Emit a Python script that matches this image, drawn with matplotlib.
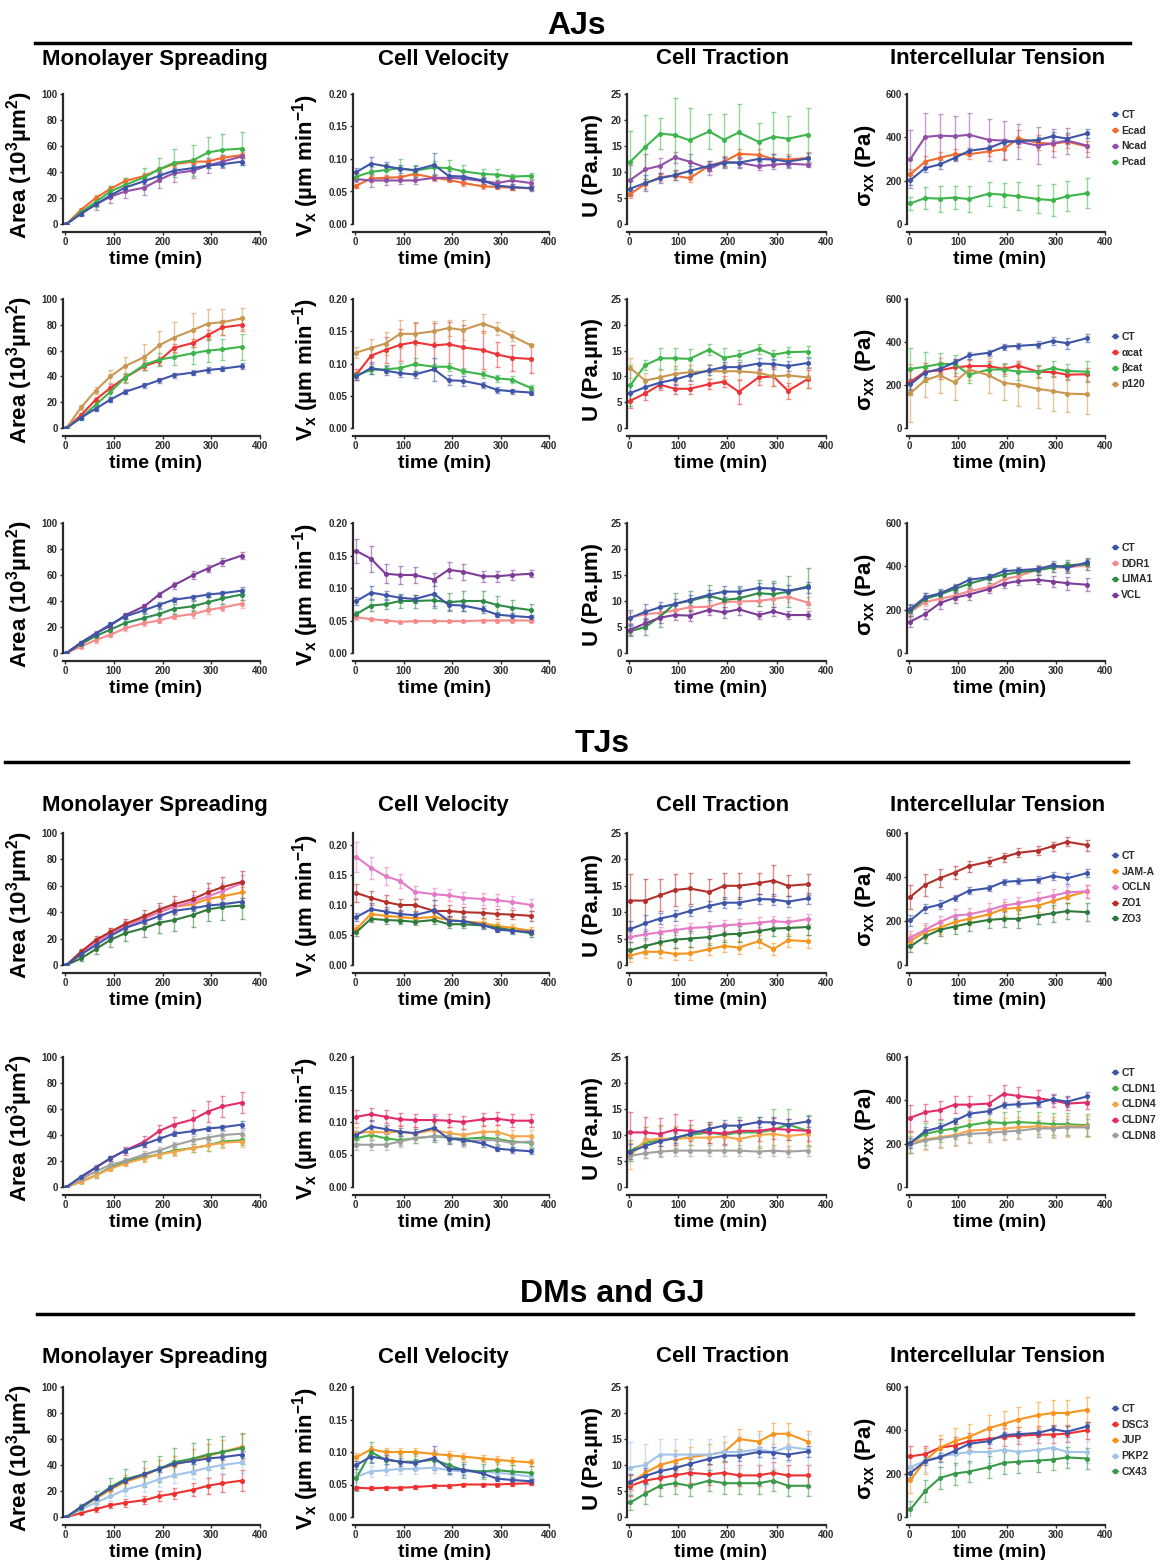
import matplotlib
matplotlib.use('Agg')
import matplotlib.pyplot as plt
from matplotlib.lines import Line2D
from matplotlib.ticker import FormatStrFormatter

plt.rcParams['font.family'] = ['Liberation Sans', 'DejaVu Sans']
plt.rcParams['font.weight'] = 'bold'
plt.rcParams['mathtext.fontset'] = 'custom'
plt.rcParams['mathtext.rm'] = 'Liberation Sans:bold'
plt.rcParams['mathtext.it'] = 'Liberation Sans:bold'
plt.rcParams['mathtext.bf'] = 'Liberation Sans:bold'
plt.rcParams['mathtext.default'] = 'rm'

# time points (min)
time = [3, 33, 63, 93, 123, 163, 193, 223, 263, 293, 323, 363]

# control (CT), shared by every panel
ct_area = [0, 8, 15, 22, 28, 33, 37, 41, 43, 45, 46, 48]
ct_area_err = [0, 1, 1.5, 2, 2, 2, 2, 2, 2, 2, 2, 2.5]
ct_vel = [0.080, 0.093, 0.089, 0.085, 0.083, 0.091, 0.074, 0.073, 0.067, 0.059, 0.057, 0.055]
ct_vel_err = [0.006, 0.010, 0.007, 0.006, 0.006, 0.018, 0.008, 0.008, 0.005, 0.004, 0.004, 0.004]
ct_trac = [6.8, 7.9, 8.8, 9.4, 10.2, 11.2, 11.8, 11.8, 12.5, 12.4, 12.0, 12.6]
ct_trac_err = [1.5, 1.5, 1.0, 1.0, 1.0, 1.0, 1.0, 1.0, 1.0, 1.0, 1.0, 1.0]
ct_ten = [203, 258, 275, 305, 338, 350, 378, 382, 388, 405, 394, 418]
ct_ten_err = [25, 20, 20, 15, 15, 15, 15, 15, 15, 18, 25, 20]

# ---- AJs, row 1
aj1_labels = ['Ecad', 'Ncad', 'Pcad']
aj1_colors = ['#f26a30', '#9350a8', '#3db54a']
aj1_area = [[0, 11, 20, 27, 33, 37, 42, 46, 48, 48, 51, 53],
            [0, 8, 15, 21, 25, 28, 34, 39, 41, 45, 48, 52],
            [0, 9, 17, 25, 30, 36, 42, 47, 49, 55, 57, 58]]
aj1_area_err = [[0, 1, 2, 2, 2, 2, 2, 2, 2, 2, 2, 2],
                [0, 2, 4, 5, 5, 6, 6, 7, 6, 6, 5, 5],
                [0, 2, 4, 4, 5, 7, 9, 11, 12, 12, 12, 13]]
aj1_vel = [[0.059, 0.070, 0.071, 0.072, 0.077, 0.071, 0.068, 0.063, 0.058, 0.057, 0.056, 0.055],
           [0.069, 0.067, 0.067, 0.067, 0.067, 0.071, 0.071, 0.070, 0.066, 0.063, 0.067, 0.063],
           [0.073, 0.080, 0.083, 0.086, 0.082, 0.087, 0.086, 0.081, 0.077, 0.076, 0.073, 0.074]]
aj1_vel_err = [[0.003, 0.005, 0.004, 0.004, 0.004, 0.005, 0.004, 0.004, 0.004, 0.003, 0.003, 0.003],
               [0.005, 0.010, 0.007, 0.006, 0.005, 0.004, 0.005, 0.005, 0.005, 0.005, 0.005, 0.005],
               [0.006, 0.008, 0.010, 0.014, 0.008, 0.010, 0.012, 0.010, 0.007, 0.009, 0.004, 0.005]]
aj1_trac = [[5.8, 7.7, 9.0, 9.3, 8.8, 11.2, 12.0, 13.5, 13.3, 12.5, 12.4, 12.7],
            [8.5, 10.5, 11.2, 12.8, 12.0, 10.6, 11.9, 11.8, 11.1, 11.4, 11.6, 11.4],
            [12.0, 14.8, 17.4, 17.1, 16.1, 17.8, 16.2, 17.6, 15.8, 16.8, 16.4, 17.2]]
aj1_trac_err = [[0.8, 1.0, 0.8, 0.8, 0.8, 1.0, 1.0, 1.0, 1.2, 1.0, 1.0, 1.2],
                [2.8, 3.0, 1.5, 1.0, 1.5, 1.2, 0.8, 0.8, 0.8, 0.8, 0.8, 0.5],
                [5.8, 6.2, 3.0, 7.2, 6.2, 3.3, 5.0, 5.4, 3.7, 4.8, 4.4, 5.2]]
aj1_ten = [[230, 288, 305, 322, 322, 335, 345, 395, 375, 370, 380, 358],
           [300, 402, 408, 405, 412, 388, 385, 380, 362, 372, 385, 362],
           [95, 120, 117, 122, 115, 140, 135, 128, 115, 110, 128, 142]]
aj1_ten_err = [[25, 25, 25, 25, 20, 20, 45, 40, 35, 35, 30, 25],
               [135, 110, 100, 95, 100, 95, 90, 80, 85, 65, 60, 55],
               [30, 50, 60, 55, 60, 55, 55, 65, 65, 75, 70, 70]]

# ---- AJs, row 2
aj2_labels = ['\u03b1cat', '\u03b2cat', 'p120']
aj2_colors = ['#ee3436', '#3db54a', '#c9974f']
aj2_area = [[0, 10, 22, 31, 39, 48, 52, 62, 66, 72, 78, 80],
            [0, 8, 18, 28, 39, 49, 53, 55, 58, 60, 61, 63],
            [0, 16, 29, 40, 48, 55, 64, 70, 76, 81, 82, 85]]
aj2_area_err = [[0, 2, 2, 3, 3, 3, 3, 3, 3, 4, 6, 5],
                [0, 2, 3, 4, 4, 4, 5, 6, 8, 9, 8, 10],
                [0, 2, 3, 5, 7, 10, 11, 12, 13, 11, 10, 8]]
aj2_vel = [[0.083, 0.112, 0.121, 0.129, 0.133, 0.128, 0.130, 0.125, 0.121, 0.114, 0.109, 0.107],
           [0.082, 0.090, 0.091, 0.093, 0.099, 0.095, 0.095, 0.088, 0.083, 0.077, 0.075, 0.062],
           [0.117, 0.124, 0.131, 0.146, 0.146, 0.150, 0.155, 0.152, 0.162, 0.154, 0.143, 0.128]]
aj2_vel_err = [[0.008, 0.012, 0.020, 0.025, 0.030, 0.035, 0.035, 0.035, 0.030, 0.020, 0.020, 0.022],
               [0.005, 0.006, 0.006, 0.008, 0.010, 0.005, 0.006, 0.005, 0.005, 0.005, 0.005, 0.004],
               [0.009, 0.014, 0.018, 0.022, 0.018, 0.016, 0.012, 0.015, 0.014, 0.010, 0.008, 0.003]]
aj2_trac = [[5.3, 6.7, 8.4, 7.6, 7.6, 8.5, 9.0, 7.0, 9.8, 10.0, 7.2, 9.5],
            [8.3, 12.2, 13.5, 13.5, 13.4, 15.2, 13.6, 14.1, 15.3, 14.2, 14.7, 14.8],
            [11.6, 9.2, 9.8, 10.5, 10.8, 11.0, 11.0, 11.0, 10.7, 10.0, 10.2, 9.8]]
aj2_trac_err = [[1.5, 1.3, 1.0, 1.0, 1.0, 1.0, 1.0, 2.3, 1.5, 1.8, 1.5, 1.8],
                [4.0, 1.0, 2.0, 2.0, 2.0, 1.0, 2.0, 1.0, 1.0, 1.0, 1.0, 1.0],
                [2.0, 1.5, 1.5, 1.5, 1.5, 1.5, 1.5, 1.5, 1.5, 1.8, 2.0, 2.0]]
aj2_ten = [[215, 262, 268, 282, 288, 288, 275, 290, 262, 260, 248, 250],
           [275, 285, 298, 298, 248, 272, 272, 262, 262, 278, 265, 262],
           [162, 222, 245, 212, 272, 245, 210, 202, 182, 172, 160, 157]]
aj2_ten_err = [[60, 40, 40, 40, 30, 25, 25, 20, 25, 25, 25, 30],
               [95, 70, 50, 40, 40, 30, 30, 40, 30, 35, 35, 50],
               [135, 80, 80, 80, 50, 80, 80, 100, 90, 95, 85, 90]]

# ---- AJs, row 3
aj3_labels = ['DDR1', 'LIMA1', 'VCL']
aj3_colors = ['#f58b8b', '#2e8b48', '#7d3c98']
aj3_area = [[0, 5, 10, 14, 19, 23, 25, 28, 30, 33, 35, 38],
            [0, 7, 13, 18, 23, 27, 30, 34, 36, 39, 42, 45],
            [0, 8, 15, 21, 29, 36, 45, 52, 60, 65, 70, 75]]
aj3_area_err = [[0, 1, 2, 2, 2, 2, 2, 2, 3, 3, 3, 3],
                [0, 1, 2, 2, 3, 3, 4, 4, 4, 4, 4, 4],
                [0, 1, 2, 2, 2, 2, 2, 3, 3, 3, 3, 3]]
aj3_vel = [[0.055, 0.052, 0.050, 0.048, 0.049, 0.049, 0.049, 0.049, 0.050, 0.050, 0.050, 0.050],
           [0.060, 0.073, 0.075, 0.080, 0.080, 0.081, 0.078, 0.080, 0.080, 0.074, 0.070, 0.066],
           [0.157, 0.145, 0.122, 0.120, 0.120, 0.113, 0.128, 0.125, 0.118, 0.118, 0.120, 0.122]]
aj3_vel_err = [[0.004, 0.002, 0.002, 0.002, 0.002, 0.002, 0.002, 0.002, 0.002, 0.002, 0.002, 0.002],
               [0.005, 0.008, 0.008, 0.010, 0.010, 0.012, 0.014, 0.015, 0.015, 0.013, 0.012, 0.010],
               [0.018, 0.020, 0.015, 0.014, 0.012, 0.010, 0.012, 0.012, 0.008, 0.008, 0.008, 0.005]]
aj3_trac = [[6.8, 7.5, 7.7, 8.2, 8.8, 8.9, 9.8, 9.9, 10.0, 10.4, 10.8, 9.7],
            [4.2, 5.0, 7.0, 9.5, 10.0, 11.0, 10.2, 10.5, 11.5, 11.3, 11.8, 12.8],
            [4.5, 5.7, 6.8, 7.3, 7.2, 8.3, 7.8, 8.4, 7.3, 8.0, 7.3, 7.3]]
aj3_trac_err = [[1.0, 1.0, 1.0, 1.0, 1.0, 1.0, 1.0, 1.0, 1.0, 1.0, 1.0, 1.0],
                [1.0, 1.5, 2.0, 2.0, 2.0, 2.0, 2.0, 2.0, 2.5, 2.5, 3.0, 3.5],
                [1.0, 1.0, 1.0, 1.0, 1.0, 1.0, 1.0, 1.0, 0.8, 0.8, 0.8, 0.8]]
aj3_ten = [[190, 235, 250, 265, 285, 305, 340, 355, 385, 395, 395, 405],
           [195, 250, 270, 295, 320, 345, 362, 372, 382, 395, 405, 410],
           [145, 180, 230, 255, 270, 295, 320, 332, 338, 330, 322, 315]]
aj3_ten_err = [[30, 20, 20, 20, 20, 20, 20, 20, 20, 20, 20, 20],
               [25, 25, 20, 20, 20, 20, 20, 20, 20, 20, 25, 25],
               [25, 25, 25, 25, 25, 20, 20, 20, 20, 25, 30, 30]]

# ---- TJs, row 1
tj1_labels = ['JAM-A', 'OCLN', 'ZO1', 'ZO3']
tj1_colors = ['#f7941d', '#e57ac6', '#b4302a', '#2f7a3a']
tj1_area = [[0, 10, 18, 25, 30, 36, 40, 44, 46, 50, 52, 55],
            [0, 9, 17, 24, 29, 35, 40, 44, 48, 52, 56, 62],
            [0, 10, 19, 25, 31, 37, 42, 46, 50, 55, 59, 63],
            [0, 5, 12, 19, 24, 28, 32, 34, 38, 42, 44, 45]]
tj1_area_err = [[0, 2, 2, 3, 3, 3, 3, 4, 4, 4, 4, 4],
                [0, 2, 3, 3, 4, 4, 5, 5, 5, 6, 6, 6],
                [0, 2, 3, 3, 4, 5, 5, 6, 6, 7, 8, 8],
                [0, 2, 4, 5, 6, 7, 8, 8, 9, 9, 10, 10]]
tj1_vel = [[0.060, 0.085, 0.082, 0.080, 0.078, 0.080, 0.075, 0.073, 0.070, 0.065, 0.062, 0.057],
           [0.180, 0.162, 0.148, 0.140, 0.122, 0.118, 0.116, 0.112, 0.110, 0.108, 0.105, 0.100],
           [0.120, 0.112, 0.105, 0.100, 0.100, 0.090, 0.090, 0.088, 0.087, 0.085, 0.084, 0.082],
           [0.055, 0.077, 0.075, 0.074, 0.072, 0.075, 0.068, 0.068, 0.066, 0.062, 0.058, 0.053]]
tj1_vel_err = [[0.006, 0.006, 0.006, 0.006, 0.006, 0.006, 0.006, 0.006, 0.006, 0.006, 0.006, 0.006],
               [0.025, 0.018, 0.015, 0.012, 0.010, 0.010, 0.010, 0.010, 0.010, 0.010, 0.010, 0.010],
               [0.015, 0.012, 0.012, 0.010, 0.010, 0.010, 0.010, 0.008, 0.008, 0.008, 0.008, 0.008],
               [0.006, 0.006, 0.006, 0.006, 0.006, 0.006, 0.006, 0.006, 0.006, 0.006, 0.006, 0.006]]
tj1_trac = [[1.8, 2.5, 2.5, 2.1, 2.2, 3.0, 3.6, 3.3, 4.5, 3.0, 4.7, 4.5],
            [5.3, 5.8, 6.2, 6.6, 7.0, 7.2, 7.5, 7.7, 8.0, 8.3, 8.1, 8.7],
            [12.2, 12.2, 13.2, 14.2, 14.5, 13.8, 15.0, 15.0, 15.5, 16.0, 15.0, 15.3],
            [2.8, 3.6, 4.3, 4.8, 5.0, 5.3, 5.8, 5.9, 6.4, 6.9, 7.0, 7.2]]
tj1_trac_err = [[1.2, 1.2, 1.2, 1.2, 1.2, 1.2, 1.2, 1.2, 1.2, 1.2, 1.2, 1.2],
                [1.0, 1.0, 1.0, 1.0, 1.0, 1.0, 1.0, 1.0, 1.0, 1.0, 1.0, 1.0],
                [5.0, 4.0, 3.0, 3.0, 3.0, 2.5, 2.5, 2.5, 2.0, 3.0, 2.0, 2.0],
                [1.5, 1.5, 1.5, 1.5, 1.5, 1.5, 1.5, 1.5, 1.5, 1.5, 1.5, 1.5]]
tj1_ten = [[110, 150, 170, 195, 210, 230, 255, 260, 270, 290, 310, 335],
           [125, 160, 195, 225, 230, 250, 270, 280, 300, 315, 330, 335],
           [310, 365, 395, 420, 450, 470, 490, 510, 520, 540, 560, 545],
           [85, 130, 160, 175, 190, 205, 210, 210, 225, 235, 245, 240]]
tj1_ten_err = [[30, 30, 30, 30, 30, 30, 30, 30, 30, 30, 30, 30],
               [30, 30, 30, 30, 30, 30, 30, 30, 30, 30, 30, 30],
               [55, 50, 40, 30, 25, 20, 20, 20, 20, 20, 20, 25],
               [25, 30, 30, 35, 35, 35, 35, 40, 40, 40, 35, 40]]

# ---- TJs, row 2
tj2_labels = ['CLDN1', 'CLDN4', 'CLDN7', 'CLDN8']
tj2_colors = ['#4ab04a', '#f7a54a', '#e22c6a', '#a0a0a0']
tj2_area = [[0, 4, 9, 15, 19, 23, 25, 28, 30, 32, 35, 36],
            [0, 4, 9, 14, 18, 22, 25, 27, 30, 32, 34, 35],
            [0, 7, 15, 22, 28, 35, 43, 48, 52, 58, 62, 65],
            [0, 6, 12, 17, 20, 25, 28, 32, 36, 38, 40, 41]]
tj2_area_err = [[0, 1, 2, 2, 2, 3, 3, 3, 3, 4, 4, 4],
                [0, 1, 2, 2, 2, 3, 3, 3, 3, 4, 4, 4],
                [0, 1, 2, 2, 3, 4, 5, 6, 7, 8, 8, 8],
                [0, 1, 2, 2, 2, 3, 3, 3, 3, 3, 3, 3]]
tj2_vel = [[0.075, 0.080, 0.075, 0.072, 0.075, 0.078, 0.076, 0.074, 0.076, 0.074, 0.070, 0.068],
           [0.083, 0.085, 0.084, 0.085, 0.082, 0.088, 0.083, 0.080, 0.085, 0.085, 0.078, 0.078],
           [0.108, 0.112, 0.108, 0.104, 0.103, 0.103, 0.102, 0.100, 0.104, 0.105, 0.102, 0.102],
           [0.065, 0.065, 0.065, 0.070, 0.075, 0.078, 0.078, 0.070, 0.072, 0.072, 0.068, 0.070]]
tj2_vel_err = [[0.008, 0.008, 0.008, 0.008, 0.008, 0.008, 0.008, 0.008, 0.008, 0.008, 0.008, 0.008],
               [0.010, 0.010, 0.010, 0.010, 0.010, 0.010, 0.010, 0.010, 0.010, 0.010, 0.010, 0.010],
               [0.010, 0.010, 0.010, 0.010, 0.010, 0.010, 0.010, 0.010, 0.010, 0.010, 0.010, 0.010],
               [0.008, 0.008, 0.008, 0.008, 0.008, 0.008, 0.008, 0.008, 0.008, 0.008, 0.008, 0.008]]
tj2_trac = [[7.0, 8.5, 9.0, 9.5, 10.0, 10.5, 10.0, 10.5, 10.5, 11.0, 12.0, 10.8],
            [6.0, 9.0, 9.3, 9.2, 9.5, 9.5, 9.7, 9.2, 10.0, 10.2, 9.8, 10.2],
            [10.5, 10.5, 10.2, 11.0, 10.8, 10.5, 10.3, 10.8, 10.8, 11.2, 11.0, 10.8],
            [6.0, 6.5, 6.8, 7.0, 7.0, 7.0, 7.0, 7.0, 6.8, 7.0, 6.8, 7.0]]
tj2_trac_err = [[2.0, 3.0, 3.0, 2.0, 2.0, 2.0, 2.0, 3.0, 3.0, 4.0, 3.0, 3.0],
                [2.5, 2.5, 2.5, 2.5, 2.5, 2.5, 2.5, 2.5, 2.5, 2.5, 2.5, 2.5],
                [4.0, 3.0, 3.0, 3.0, 2.0, 2.0, 2.0, 2.0, 2.0, 2.0, 2.0, 2.0],
                [1.0, 1.0, 1.0, 1.0, 1.0, 1.0, 1.0, 1.0, 1.0, 1.0, 1.0, 1.0]]
tj2_ten = [[205, 245, 260, 270, 285, 300, 295, 300, 295, 290, 290, 285],
           [205, 220, 230, 240, 260, 265, 270, 275, 280, 275, 280, 280],
           [320, 345, 355, 380, 380, 385, 430, 420, 410, 400, 385, 390],
           [195, 215, 225, 235, 245, 250, 255, 260, 270, 270, 275, 275]]
tj2_ten_err = [[50, 50, 50, 50, 50, 50, 50, 50, 50, 50, 50, 50],
               [50, 50, 50, 50, 50, 50, 50, 50, 50, 50, 50, 50],
               [60, 40, 40, 40, 40, 40, 40, 40, 40, 30, 30, 30],
               [40, 40, 40, 40, 40, 40, 40, 40, 40, 40, 40, 40]]

# ---- DMs and GJ
dm_labels = ['DSC3', 'JUP', 'PKP2', 'CX43']
dm_colors = ['#ee3030', '#f7941d', '#a3c4ea', '#3a9a4a']
dm_area = [[0, 3, 6, 9, 11, 13, 16, 18, 21, 24, 26, 28],
           [0, 7, 14, 21, 27, 32, 37, 40, 44, 47, 50, 54],
           [0, 6, 11, 16, 21, 25, 29, 32, 35, 38, 40, 42],
           [0, 7, 15, 23, 29, 33, 37, 42, 45, 48, 50, 53]]
dm_area_err = [[0, 1, 2, 2, 3, 3, 4, 4, 5, 6, 7, 8],
               [0, 2, 3, 4, 5, 6, 7, 7, 8, 9, 9, 10],
               [0, 2, 3, 4, 5, 6, 6, 6, 6, 7, 7, 8],
               [0, 3, 5, 7, 8, 10, 10, 11, 12, 12, 12, 12]]
dm_vel = [[0.045, 0.044, 0.045, 0.045, 0.046, 0.048, 0.048, 0.050, 0.050, 0.050, 0.051, 0.052],
          [0.092, 0.104, 0.100, 0.100, 0.100, 0.097, 0.095, 0.093, 0.090, 0.088, 0.086, 0.084],
          [0.062, 0.070, 0.072, 0.074, 0.074, 0.076, 0.072, 0.070, 0.070, 0.068, 0.066, 0.062],
          [0.060, 0.100, 0.088, 0.085, 0.085, 0.088, 0.080, 0.072, 0.070, 0.072, 0.070, 0.068]]
dm_vel_err = [[0.003, 0.003, 0.003, 0.003, 0.003, 0.003, 0.003, 0.003, 0.003, 0.003, 0.003, 0.003],
              [0.006, 0.006, 0.006, 0.006, 0.006, 0.006, 0.006, 0.006, 0.006, 0.006, 0.006, 0.006],
              [0.008, 0.008, 0.008, 0.008, 0.008, 0.008, 0.008, 0.008, 0.008, 0.008, 0.008, 0.008],
              [0.020, 0.015, 0.015, 0.012, 0.012, 0.012, 0.012, 0.012, 0.012, 0.012, 0.010, 0.010]]
dm_trac = [[6.0, 7.0, 7.5, 8.0, 8.5, 8.2, 8.5, 8.0, 8.0, 8.5, 8.0, 8.0],
           [6.5, 8.5, 10.0, 10.8, 11.5, 12.0, 12.5, 15.0, 14.5, 16.0, 16.0, 14.5],
           [9.5, 10.0, 12.0, 12.0, 12.0, 12.0, 12.5, 12.5, 13.0, 12.5, 13.5, 13.0],
           [2.8, 4.5, 6.0, 6.5, 6.0, 7.0, 6.5, 6.5, 6.5, 7.0, 6.0, 6.0]]
dm_trac_err = [[2.0, 2.0, 2.0, 2.0, 2.0, 2.0, 2.0, 2.0, 2.0, 2.0, 2.0, 2.0],
               [1.5, 2.0, 2.0, 2.0, 2.0, 2.0, 2.0, 2.0, 2.0, 2.0, 2.0, 2.0],
               [5.0, 4.0, 3.0, 3.0, 3.0, 3.0, 3.0, 3.0, 3.0, 3.0, 3.0, 3.0],
               [1.5, 2.0, 2.0, 2.0, 2.0, 2.0, 2.0, 2.0, 2.0, 2.0, 2.0, 2.0]]
dm_ten = [[280, 290, 320, 330, 350, 360, 370, 375, 380, 380, 385, 400],
          [170, 260, 320, 350, 370, 410, 430, 450, 470, 480, 480, 495],
          [230, 260, 280, 290, 300, 300, 310, 300, 310, 320, 300, 300],
          [35, 120, 180, 200, 210, 230, 250, 255, 260, 265, 275, 270]]
dm_ten_err = [[50, 40, 40, 40, 40, 40, 40, 40, 40, 40, 40, 40],
              [60, 60, 60, 60, 60, 60, 60, 60, 60, 60, 60, 60],
              [50, 50, 50, 50, 50, 50, 50, 50, 50, 50, 50, 50],
              [40, 50, 50, 50, 50, 50, 50, 50, 50, 50, 50, 50]]

ct_color = '#3f55a8'
ct_means = [ct_area, ct_vel, ct_trac, ct_ten]
ct_errs = [ct_area_err, ct_vel_err, ct_trac_err, ct_ten_err]

rows = [
    (aj1_labels, aj1_colors, [aj1_area, aj1_vel, aj1_trac, aj1_ten],
     [aj1_area_err, aj1_vel_err, aj1_trac_err, aj1_ten_err]),
    (aj2_labels, aj2_colors, [aj2_area, aj2_vel, aj2_trac, aj2_ten],
     [aj2_area_err, aj2_vel_err, aj2_trac_err, aj2_ten_err]),
    (aj3_labels, aj3_colors, [aj3_area, aj3_vel, aj3_trac, aj3_ten],
     [aj3_area_err, aj3_vel_err, aj3_trac_err, aj3_ten_err]),
    (tj1_labels, tj1_colors, [tj1_area, tj1_vel, tj1_trac, tj1_ten],
     [tj1_area_err, tj1_vel_err, tj1_trac_err, tj1_ten_err]),
    (tj2_labels, tj2_colors, [tj2_area, tj2_vel, tj2_trac, tj2_ten],
     [tj2_area_err, tj2_vel_err, tj2_trac_err, tj2_ten_err]),
    (dm_labels, dm_colors, [dm_area, dm_vel, dm_trac, dm_ten],
     [dm_area_err, dm_vel_err, dm_trac_err, dm_ten_err]),
]

ylabels = ['Area (10$^3$\u00b5m$^2$)', 'V$_x$ (\u00b5m min$^{-1}$)',
           'U (Pa.\u00b5m)', '\u03c3$_{xx}$ (Pa)']
yticks = [[0, 20, 40, 60, 80, 100], [0, 0.05, 0.10, 0.15, 0.20],
          [0, 5, 10, 15, 20, 25], [0, 200, 400, 600]]
col_titles = ['Monolayer Spreading', 'Cell Velocity', 'Cell Traction', 'Intercellular Tension']

# pixel layout
W, H = 1161, 1560
col_px = [(65, 260), (355, 549), (629, 826), (909, 1105)]   # x=0 and x=400
row_px = [(94, 224), (299, 428), (523, 653), (833, 965), (1057, 1187), (1387, 1517)]
ylab_px = [20, 306, 593, 866]
title_rows = {0: 59, 3: 805, 5: 1357}
title_cx = [155, 443, 723, 998]
legend_top = [110, 332, 543, 851, 1068, 1404]
dark = '#2b2b2b'

fig = plt.figure(figsize=(W / 100, H / 100), dpi=100)


def draw_series(ax, y, e, color):
    cont = ax.errorbar(time, y, yerr=e, color=color, lw=1.5, marker='o', ms=2.6,
                       capsize=1.8, elinewidth=1.0, capthick=1.0)
    for art in cont[1] + cont[2]:
        art.set_alpha(0.55)


for r, (labels, colors, means, errs) in enumerate(rows):
    y_top, y_bot = row_px[r]
    for c in range(4):
        x0, x4 = col_px[c]
        span = x4 - x0
        left = x0 - 5 * span / 400
        ax = fig.add_axes([left / W, 1 - y_bot / H, span * 405 / 400 / W, (y_bot - y_top) / H])
        for y, e, col in zip(means[c], errs[c], colors):
            draw_series(ax, y, e, col)
        draw_series(ax, ct_means[c], ct_errs[c], ct_color)

        ax.set_xlim(-5, 400)
        top = yticks[c][-1]
        if r == 3 and c == 1:
            top = 0.22
        ax.set_ylim(0, top)
        ax.set_yticks(yticks[c])
        ax.set_xticks([0, 100, 200, 300, 400])
        if c == 1:
            ax.yaxis.set_major_formatter(FormatStrFormatter('%.2f'))
        for s in ['top', 'right']:
            ax.spines[s].set_visible(False)
        ax.spines['bottom'].set_position(('outward', 6))
        for s in ['left', 'bottom']:
            ax.spines[s].set_linewidth(1.6)
            ax.spines[s].set_color(dark)
        ax.tick_params(labelsize=7, length=2.5, width=1, colors=dark, pad=1)
        for lab in ax.get_xticklabels() + ax.get_yticklabels():
            lab.set_fontweight('bold')

        ax.set_xlabel('time (min)', fontsize=14, fontweight='bold', color='black')
        ax.xaxis.set_label_coords(0.47, -27 / (y_bot - y_top))
        ax.set_ylabel(ylabels[c], fontsize=16, fontweight='bold', color='black')
        ax.yaxis.label.set(va='center', ha='center', rotation_mode='anchor')
        ax.yaxis.set_label_coords((ylab_px[c] - left) / (span * 405 / 400), 0.45)

        if r in title_rows:
            fig.text(title_cx[c] / W, 1 - title_rows[r] / H, col_titles[c], fontsize=16,
                     fontweight='bold', ha='center', va='center')

    handles = [Line2D([], [], color=ct_color, marker='o', ms=3, lw=1)]
    handles += [Line2D([], [], color=col, marker='o', ms=3, lw=1) for col in colors]
    leg = fig.legend(handles, ['CT'] + labels, loc='upper left',
                     bbox_to_anchor=(1112 / W, 1 - legend_top[r] / H), frameon=False,
                     fontsize=7.5, handlelength=0.6, handletextpad=0.3, labelspacing=0.55,
                     borderpad=0, borderaxespad=0)
    for t in leg.get_texts():
        t.set_color(dark)
        t.set_fontweight('bold')

# section headers
headers = [('AJs', 577, 26, 35, 1130, 43), ('TJs', 602, 744, 5, 1128, 762),
           ('DMs and GJ', 612, 1294, 37, 1133, 1314)]
for text, cx, cy, lx0, lx1, ly in headers:
    fig.text(cx / W, 1 - cy / H, text, fontsize=23, fontweight='bold', ha='center', va='center')
    fig.add_artist(Line2D([lx0 / W, lx1 / W], [1 - ly / H, 1 - ly / H], color='black', lw=2.5))

fig.savefig('out.png', dpi=100)
